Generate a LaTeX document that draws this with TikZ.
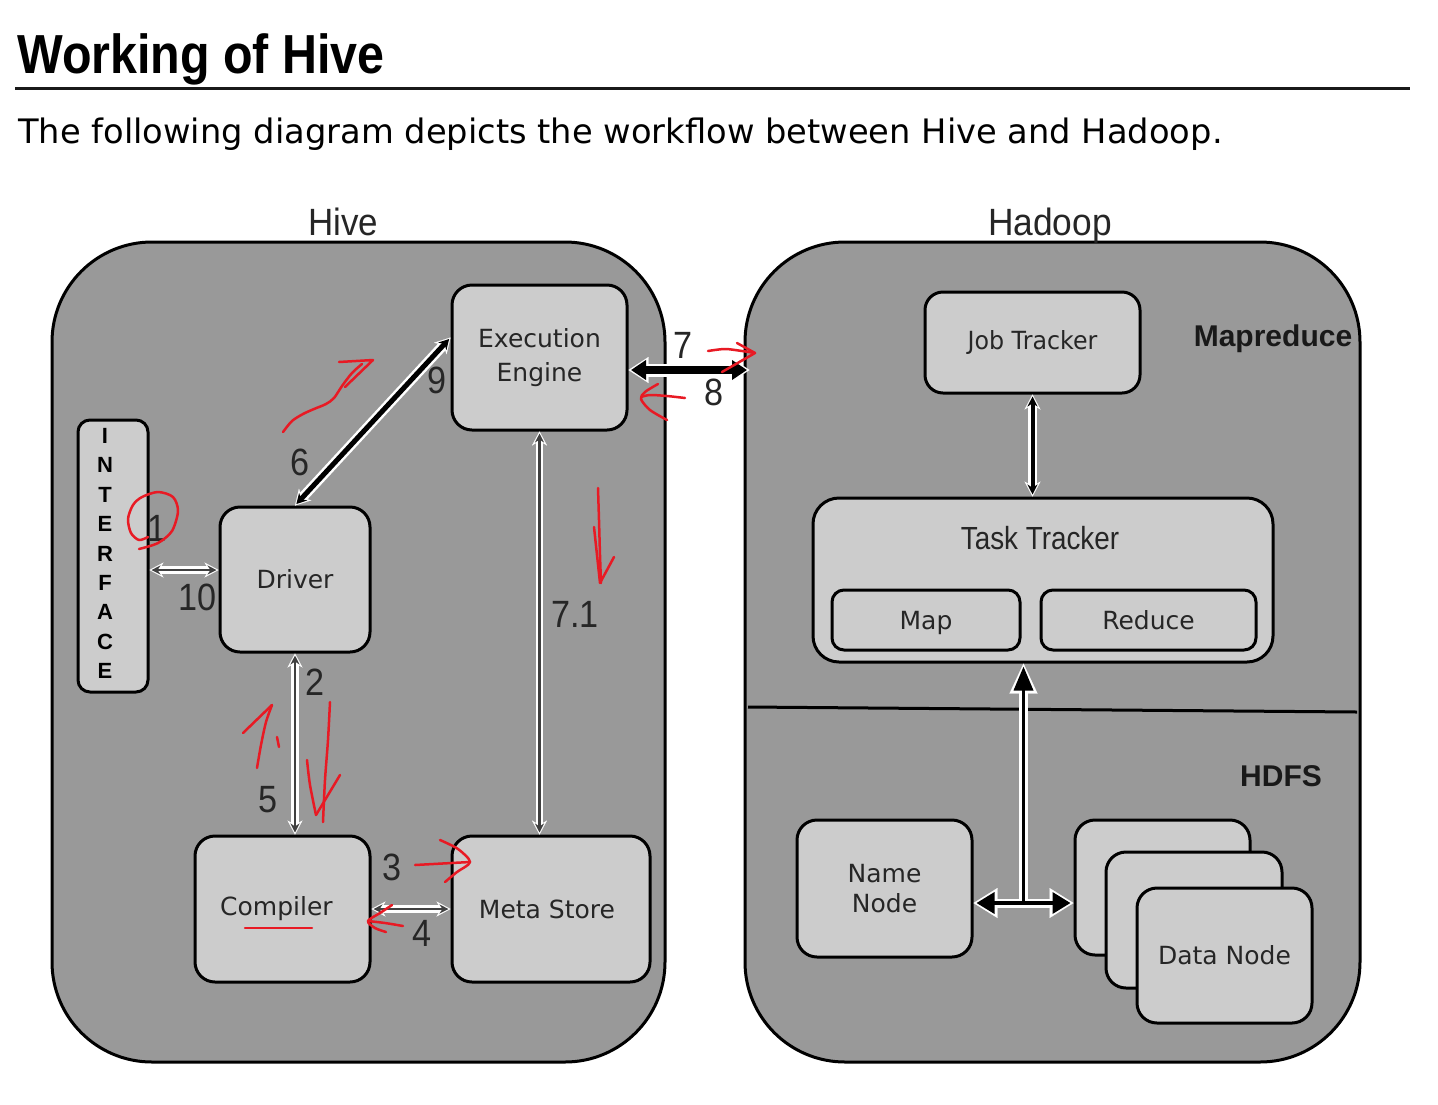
\documentclass[tikz,border=0pt]{standalone}
\usepackage{fontspec}
\setmainfont{DejaVu Sans}
\newfontfamily\arialfont{Liberation Sans}
\usetikzlibrary{arrows.meta,calc}
\definecolor{outergray}{RGB}{153,153,153}
\definecolor{boxgray}{RGB}{204,204,204}
\definecolor{txtgray}{RGB}{38,38,38}
\definecolor{annot}{RGB}{232,26,36}
\newcommand{\squeezed}[2]{\scalebox{#1}[1]{#2}}
\begin{document}
\begin{tikzpicture}[x=1pt,y=-1pt,
  container/.style={draw=black, line width=3pt, fill=outergray, rounded corners=100pt, inner sep=0pt},
  box/.style={draw=black, line width=3pt, fill=boxgray, rounded corners=20pt, inner sep=0pt, text=txtgray, font=\fontsize{25}{30}\selectfont, align=center},
  numlbl/.style={inner sep=0pt, text=txtgray, font=\arialfont\fontsize{38}{40}\selectfont},
  headlbl/.style={inner sep=0pt, text=txtgray, font=\arialfont\fontsize{38}{40}\selectfont},
  sectlbl/.style={inner sep=0pt, text=black!90, font=\arialfont\bfseries\fontsize{30}{32}\selectfont},
  letterlbl/.style={inner sep=0pt, text=black, font=\arialfont\bfseries\fontsize{22}{23}\selectfont},
  redmark/.style={draw=annot, line width=2.5pt, line cap=round, line join=round},
  slimarr/.style={draw=black!75, line width=2.2pt, shorten <=2pt, shorten >=2pt,
     {Stealth[length=9pt,width=9pt]}-{Stealth[length=9pt,width=9pt]},
     preaction={draw=white, line width=7.5pt, shorten <=0pt, shorten >=0pt,
     {Stealth[length=14pt,width=15pt,line width=0.1pt]}-{Stealth[length=14pt,width=15pt,line width=0.1pt]}}},
  medarr/.style={draw=black, line width=5pt, shorten <=2pt, shorten >=2pt,
     {Stealth[length=10pt,width=11pt]}-{Stealth[length=10pt,width=11pt]},
     preaction={draw=white, line width=10pt, shorten <=0pt, shorten >=0pt,
     {Stealth[length=15pt,width=17pt,line width=0.1pt]}-{Stealth[length=15pt,width=17pt,line width=0.1pt]}}},
  jtarr/.style={draw=black, line width=4pt, shorten <=2pt, shorten >=2pt,
     {Stealth[length=10pt,width=10pt]}-{Stealth[length=10pt,width=10pt]},
     preaction={draw=white, line width=9pt, shorten <=0pt, shorten >=0pt,
     {Stealth[length=15pt,width=16pt,line width=0.1pt]}-{Stealth[length=15pt,width=16pt,line width=0.1pt]}}},
  fatarr/.style={draw=black, line width=8pt, shorten <=2.5pt, shorten >=2.5pt,
     {Triangle[length=15pt,width=19pt]}-{Triangle[length=15pt,width=19pt]},
     preaction={draw=white, line width=13pt, shorten <=0pt, shorten >=0pt,
     {Triangle[length=20pt,width=26pt,line width=0.1pt]}-{Triangle[length=20pt,width=26pt,line width=0.1pt]}}},
]
\useasboundingbox (0,0) rectangle (1438,1104);
\fill[white] (0,0) rectangle (1438,1104);

% title block
\node[anchor=base west, inner sep=0pt] (title) at (17,73)
  {\arialfont\bfseries\fontsize{55}{60}\selectfont\squeezed{0.88}{Working of Hive}};
\coordinate (ruleL) at (15,88);
\coordinate (ruleR) at (1410,88);
\draw[line width=3pt, black!90] (ruleL) -- (ruleR);
\node[anchor=base west, inner sep=0pt] (subtitle) at (18,143)
  {\fontsize{33.7}{40}\selectfont The following diagram depicts the workflow between Hive and Hadoop.};

% containers
\node[container, minimum width=613pt, minimum height=820pt] (hive) at (358.5,652) {};
\node[container, minimum width=615pt, minimum height=820pt] (hadoop) at (1052.5,652) {};
\node[headlbl, anchor=base] (hivelbl) at (343,235) {\squeezed{0.92}{Hive}};
\node[headlbl, anchor=base] (hadooplbl) at (1050,235) {\squeezed{0.93}{Hadoop}};

% hadoop divider
\coordinate (divL) at (748,707);
\coordinate (divR) at (1357,712);
\draw[line width=3pt, black] (divL) -- (divR);
\node[sectlbl] (mrlbl) at (1273,339) {Mapreduce};
\node[sectlbl] (hdfslbl) at (1281,776) {HDFS};

% hive nodes
\node[box, rounded corners=12pt, minimum width=70pt, minimum height=272pt] (iface) at (113,556) {};
\foreach \ch [count=\i from 0] in {I,N,T,E,R,F,A,C,E} {
  \node[letterlbl] (ifl\i) at (105,{436+29.4*\i}) {\ch};
}
\node[box, minimum width=150pt, minimum height=145pt] (driver) at (295,579.5) {Driver};
\node[box, minimum width=175pt, minimum height=145pt, font=\fontsize{25}{34}\selectfont] (exec) at (539.5,357.5) {Execution\\Engine};
\node[box, minimum width=175pt, minimum height=146pt] (compiler) at (282.5,909) {\hspace*{-12pt}Compiler};
\node[box, minimum width=198pt, minimum height=146pt] (meta) at (551,909) {\hspace*{-8pt}Meta Store};

% hadoop nodes
\node[box, rounded corners=18pt, minimum width=215pt, minimum height=101pt] (job) at (1032.5,342.5) {\squeezed{0.95}{Job Tracker}};
\node[box, rounded corners=26pt, minimum width=460pt, minimum height=164pt] (task) at (1043,580) {};
\node[inner sep=0pt, text=txtgray, font=\arialfont\fontsize{32}{34}\selectfont] (tasklbl) at (1040,538) {\squeezed{0.87}{Task Tracker}};
\node[box, rounded corners=12pt, minimum width=188pt, minimum height=60pt, text height=22pt, text depth=3pt] (map) at (926,620) {Map};
\node[box, rounded corners=12pt, minimum width=215pt, minimum height=60pt, text height=22pt, text depth=3pt] (reduce) at (1148.5,620) {Reduce};
\node[box, minimum width=175pt, minimum height=137pt] (name) at (884.5,888.5) {Name\\Node};
\node[box, minimum width=175pt, minimum height=135pt] (data3) at (1162.5,887.5) {};
\node[box, minimum width=176pt, minimum height=136pt] (data2) at (1194,920) {};
\node[box, minimum width=175pt, minimum height=135pt] (data1) at (1224.5,955.5) {Data Node};

% hive connectors
\coordinate (ifA) at ($(driver.west)+(0,-9.5)$);
\draw[slimarr] (ifA -| iface.east) -- (ifA);
\coordinate (exA) at ($(exec.west)+(0,-20)$);
\draw[medarr] (driver.north) -- (exA);
\draw[slimarr] (driver.south) -- (driver.south |- compiler.north);
\draw[slimarr] (compiler.east) -- (meta.west);
\draw[slimarr] (exec.south) -- (exec.south |- meta.north);
\coordinate (e78) at ($(exec.east)+(0,12.5)$);
\coordinate (e78r) at ($(e78 -| hadoop.west)+(6,0)$);
\draw[fatarr] (e78) -- (e78r);

% numbers
\node[numlbl] (n1) at (157,528) {\squeezed{0.9}{1}};
\node[numlbl] (n10) at (198,597) {\squeezed{0.9}{10}};
\node[numlbl] (n6) at (300,462) {\squeezed{0.9}{6}};
\node[numlbl] (n9) at (437,380) {\squeezed{0.9}{9}};
\node[numlbl] (n2) at (315,682) {\squeezed{0.9}{2}};
\node[numlbl] (n5) at (268,800) {\squeezed{0.9}{5}};
\node[numlbl] (n3) at (392,867) {\squeezed{0.9}{3}};
\node[numlbl] (n4) at (422,933) {\squeezed{0.9}{4}};
\node[numlbl] (n71) at (575,614) {\squeezed{0.9}{7.1}};
\node[numlbl] (n7) at (683,345) {\squeezed{0.9}{7}};
\node[numlbl] (n8) at (714,392) {\squeezed{0.9}{8}};

% hadoop connectors
\draw[jtarr] (job.south) -- (job.south |- task.north);
\coordinate (nA) at ($(name.east)+(0,14.5)$);
\coordinate (dA) at (nA -| data3.west);
\coordinate (mid) at ($(nA)!0.5!(dA)$);
\coordinate (tB) at (mid |- task.south);
\draw[draw=white, line width=9pt, {Triangle[length=24pt,width=30pt,line width=0.1pt]}-{Triangle[length=24pt,width=30pt,line width=0.1pt]}] (nA) -- (dA);
\draw[draw=white, line width=9pt, -{Triangle[length=30pt,width=28pt,line width=0.1pt]}] (mid) -- (tB);
\draw[draw=black, line width=3.5pt, shorten <=3pt, shorten >=3pt, {Triangle[length=18pt,width=21pt]}-{Triangle[length=18pt,width=21pt]}] (nA) -- (dA);
\draw[draw=black, line width=3.5pt, shorten >=3pt, -{Triangle[length=24pt,width=19pt]}] (mid) -- (tB);

% red hand-drawn annotations
\draw[redmark] plot[smooth] coordinates {(283,432) (292,421) (303,414) (314,409) (326,404) (334,398) (342,386) (352,373) (362,364)};
\draw[redmark] (339,362) -- (373,360) -- (345,387);
\draw[redmark] plot[smooth] coordinates {(148,537) (139,540) (131,533) (128,519) (133,505) (142,497) (158,492) (173,497) (178,511) (172,531) (158,543) (139,549)};
\draw[redmark] plot[smooth] coordinates {(598,488) (599,520) (600,555) (601,583)};
\draw[redmark] (594,527) -- (600,583) -- (614,557);
\draw[redmark] plot[smooth] coordinates {(685,398) (667,396) (650,395) (641,397)};
\draw[redmark] plot[smooth] coordinates {(658,384) (645,392) (641,399) (650,410) (667,420)};
\draw[redmark] plot[smooth] coordinates {(708,351) (725,349) (742,351) (755,353)};
\draw[redmark] (737,343) -- (755,353) -- (722,372);
\draw[redmark] plot[smooth] coordinates {(257,768) (261,745) (266,722) (272,705)};
\draw[redmark] (243,733) -- (272,705);
\draw[redmark] (277,737) -- (279,747);
\draw[redmark] plot[smooth] coordinates {(330,702) (328,740) (325,780) (323,822)};
\draw[redmark] plot[smooth] coordinates {(307,760) (310,785) (316,815)};
\draw[redmark] (316,815) -- (340,775);
\draw[redmark] (415,865) -- (470,862);
\draw[redmark] plot[smooth] coordinates {(440,840) (458,849) (470,862) (457,872) (445,882)};
\draw[redmark] plot[smooth] coordinates {(403,926) (385,923) (368,921)};
\draw[redmark] plot[smooth] coordinates {(392,905) (380,913) (368,921) (375,928) (386,932)};
\draw[redmark] (245,928) -- (312,928);
\end{tikzpicture}
\end{document}
